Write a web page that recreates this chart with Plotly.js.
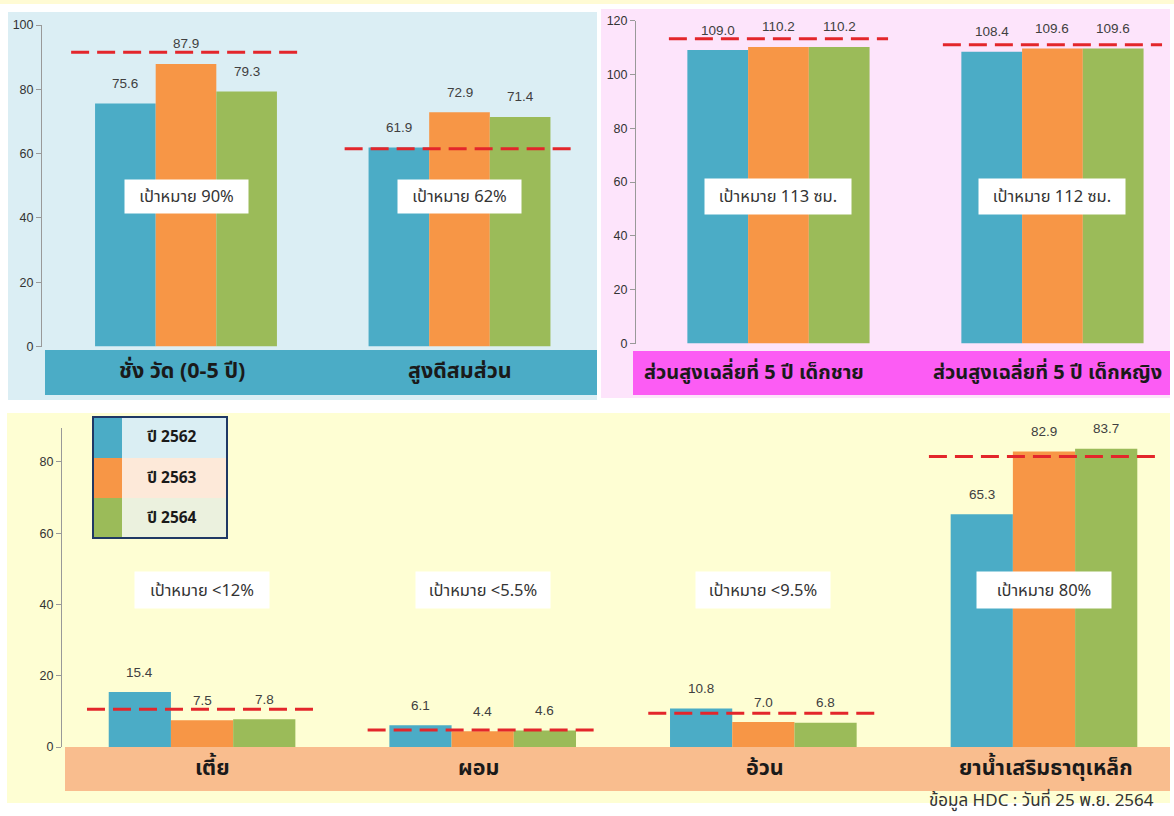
<!DOCTYPE html>
<html>
<head>
<meta charset="utf-8">
<script src="https://cdn.plot.ly/plotly-3.0.1.min.js"></script>
<style>html,body{margin:0;padding:0;background:#fff;}#chart{width:1174px;height:816px;}</style>
</head>
<body>
<div id="chart"></div>
<script>
// ---------------- data ----------------
const years = ['ปี 2562', 'ปี 2563', 'ปี 2564'];

// panel 1 : weight/height screening
const cats1 = ['ชั่ง วัด (0-5 ปี)', 'สูงดีสมส่วน'];
const p1_2562 = [75.6, 61.9];
const p1_2563 = [87.9, 72.9];
const p1_2564 = [79.3, 71.4];
const p1TargetText = ['เป้าหมาย 90%', 'เป้าหมาย 62%'];
const p1TargetLine = [91.5, 61.5];

// panel 2 : mean height at 5 years
const cats2 = ['ส่วนสูงเฉลี่ยที่ 5 ปี เด็กชาย', 'ส่วนสูงเฉลี่ยที่ 5 ปี เด็กหญิง'];
const p2_2562 = [109.0, 108.4];
const p2_2563 = [110.2, 109.6];
const p2_2564 = [110.2, 109.6];
const p2TargetText = ['เป้าหมาย 113 ซม.', 'เป้าหมาย 112 ซม.'];
const p2TargetLine = [113.2, 111.0];

// panel 3 : nutrition status
const cats3 = ['เตี้ย', 'ผอม', 'อ้วน', 'ยาน้ำเสริมธาตุเหล็ก'];
const p3_2562 = [15.4, 6.1, 10.8, 65.3];
const p3_2563 = [7.5, 4.4, 7.0, 82.9];
const p3_2564 = [7.8, 4.6, 6.8, 83.7];
const p3TargetText = ['เป้าหมาย <12%', 'เป้าหมาย <5.5%', 'เป้าหมาย <9.5%', 'เป้าหมาย 80%'];
const p3TargetLine = [10.6, 4.8, 9.5, 81.5];

const footer = 'ข้อมูล HDC : วันที่ 25 พ.ย. 2564';

// ---------------- style ----------------
const W = 1174, H = 816;
const px = x => x / W;
const py = y => 1 - y / H;
const colors = ['#4bacc6', '#f79646', '#9bbb59'];
const legendRowColors = ['#daeef3', '#fde9d9', '#ebf1de'];
const THAI = '"Noto Sans Thai", "Noto Sans Thai UI", Loma, Garuda, Tahoma, "Noto Sans", sans-serif';
const NUM = '"Liberation Sans", Arial, sans-serif';
const BARGAP = 0.335;
const barW = (1 - BARGAP) / 3;

const panels = [
  {xa: 'x', ya: 'y', cats: cats1, series: [p1_2562, p1_2563, p1_2564], tText: p1TargetText, tLine: p1TargetLine,
   halfLine: 0.42, boxW: 123, boxH: 33, boxY: 196, labelY: 372, labelShift: [-4, 0], labelSize: 21.5},
  {xa: 'x2', ya: 'y2', cats: cats2, series: [p2_2562, p2_2563, p2_2564], tText: p2TargetText, tLine: p2TargetLine,
   halfLine: 0.40, boxW: 146, boxH: 35, boxY: 196, labelY: 373, labelShift: [-24, -5], labelSize: 20},
  {xa: 'x3', ya: 'y3', cats: cats3, series: [p3_2562, p3_2563, p3_2564], tText: p3TargetText, tLine: p3TargetLine,
   halfLine: 0.41, boxW: 134, boxH: 36, boxY: 590, labelY: 768, labelShift: [10, -4, 2, 2], labelSize: 21.5}
];

const traces = [];
const annotations = [];
const shapes = [];

// backgrounds
function rect(x0, y0, x1, y1, fill, layer, line) {
  shapes.push({type: 'rect', xref: 'paper', yref: 'paper', x0: px(x0), x1: px(x1), y0: py(y1), y1: py(y0),
    fillcolor: fill, line: line || {width: 0}, layer: layer || 'below'});
}
rect(0, 0, 1174, 4, '#fffbd4');
rect(8, 12, 597, 400, '#dbeef4');
rect(601, 9, 1170, 398, '#fde4fb');
rect(7, 413, 1170, 803, '#fefed3');
rect(45, 350, 597, 395, '#4bacc6');
rect(633, 351, 1170, 395, '#fc5cf4');
rect(65, 747, 1170, 791, '#f9bd8e');

panels.forEach((p, pi) => {
  p.series.forEach((vals, si) => {
    traces.push({
      type: 'bar', x: p.cats, y: vals, name: years[si],
      xaxis: p.xa, yaxis: p.ya, marker: {color: colors[si], line: {width: 0}},
      showlegend: false, hoverinfo: 'x+y+name'
    });
    vals.forEach((v, ci) => {
      annotations.push({
        xref: p.xa, yref: p.ya, x: ci + (si - 1) * barW, y: v, yshift: 20,
        xanchor: 'center', yanchor: 'middle',
        text: v.toFixed(1), showarrow: false,
        font: {family: NUM, size: 13.5, color: '#404040'}
      });
    });
  });
  p.cats.forEach((c, ci) => {
    // target line
    shapes.push({type: 'line', xref: p.xa, yref: p.ya, x0: ci - p.halfLine, x1: ci + p.halfLine,
      y0: p.tLine[ci], y1: p.tLine[ci], line: {color: '#e3262b', width: 3, dash: '18px,8px'}, layer: 'above'});
    // target box
    annotations.push({
      xref: p.xa, yref: 'paper', x: ci, y: py(p.boxY), xanchor: 'center', yanchor: 'middle',
      text: p.tText[ci], showarrow: false,
      bgcolor: '#ffffff', width: p.boxW, height: p.boxH, borderpad: 0,
      font: {family: THAI, size: 16.5, color: '#333333'}
    });
    // category label in band
    annotations.push({
      xref: p.xa, yref: 'paper', x: ci, y: py(p.labelY), xanchor: 'center', yanchor: 'middle',
      xshift: p.labelShift[ci],
      text: '<b>' + c + '</b>', showarrow: false,
      font: {family: THAI, size: p.labelSize, color: '#1a1a1a'}
    });
  });
});

// legend box
const legRows = [[417, 458], [458, 498], [498, 538]];
years.forEach((yname, i) => {
  rect(93, legRows[i][0], 122, legRows[i][1], colors[i], 'above');
  rect(122, legRows[i][0], 227, legRows[i][1], legendRowColors[i], 'above');
  annotations.push({xref: 'paper', yref: 'paper', x: px(172), y: py((legRows[i][0] + legRows[i][1]) / 2),
    xanchor: 'center', yanchor: 'middle',
    text: '<b>' + yname + '</b>', showarrow: false, font: {family: THAI, size: 15.5, color: '#1a1a1a'}});
});
shapes.push({type: 'rect', xref: 'paper', yref: 'paper', x0: px(93), x1: px(227), y0: py(538), y1: py(417),
  fillcolor: 'rgba(0,0,0,0)', line: {color: '#1f3864', width: 2}, layer: 'above'});

annotations.push({xref: 'paper', yref: 'paper', x: px(1156), y: py(801), xanchor: 'right', yanchor: 'middle',
  text: footer, showarrow: false, font: {family: THAI, size: 17, color: '#333333'}});

const yStyle = {
  showgrid: false, zeroline: false, showline: true, linecolor: '#999999', linewidth: 1,
  ticks: 'outside', ticklen: 5, tickcolor: '#999999', dtick: 20,
  tickfont: {family: NUM, size: 12.5, color: '#333333'}, fixedrange: true
};
const xStyle = {showgrid: false, zeroline: false, showline: false, showticklabels: false, ticks: '', fixedrange: true, type: 'category'};

const layout = {
  width: W, height: H, margin: {l: 0, r: 0, t: 0, b: 0},
  paper_bgcolor: '#ffffff', plot_bgcolor: 'rgba(0,0,0,0)',
  barmode: 'group', bargap: BARGAP, bargroupgap: 0,
  showlegend: false,
  xaxis: Object.assign({}, xStyle, {domain: [px(42), px(597)], range: [-0.5265, 1.5027], anchor: 'y'}),
  yaxis: Object.assign({}, yStyle, {domain: [py(346.5), py(25)], range: [0, 100], anchor: 'x'}),
  xaxis2: Object.assign({}, xStyle, {domain: [px(636), px(1170)], range: [-0.52, 1.429], anchor: 'y2'}),
  yaxis2: Object.assign({}, yStyle, {domain: [py(343.5), py(20.5)], range: [0, 120], anchor: 'x2'}),
  xaxis3: Object.assign({}, xStyle, {domain: [px(62), px(1170)], range: [-0.499, 3.449], anchor: 'y3'}),
  yaxis3: Object.assign({}, yStyle, {domain: [py(747), py(427.7)], range: [0, 89.6], anchor: 'x3'}),
  shapes: shapes,
  annotations: annotations
};

Plotly.newPlot('chart', traces, layout, {displayModeBar: false, staticPlot: true});
</script>
</body>
</html>
